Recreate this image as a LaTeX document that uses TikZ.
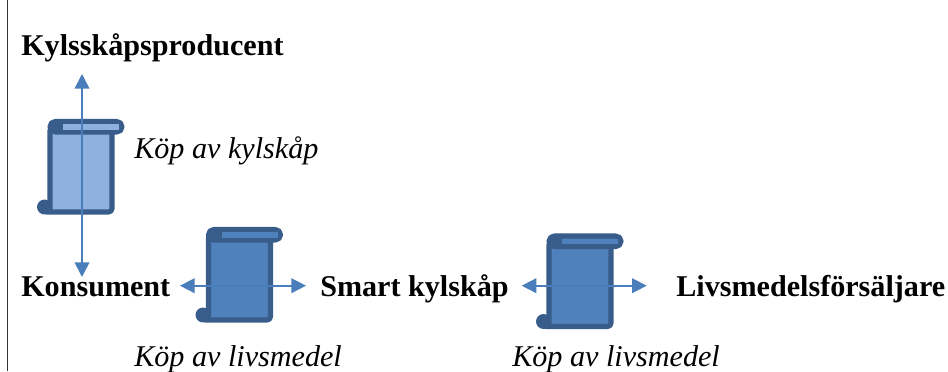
\documentclass[tikz,border=0pt]{standalone}
\usepackage{fontspec}
\setmainfont{Liberation Serif}
\usetikzlibrary{arrows.meta}
\definecolor{arrowblue}{HTML}{4A7EBB}
\definecolor{scrolledge}{HTML}{385D8A}
\definecolor{scrolllight}{HTML}{8EB1E0}
\definecolor{scrolldark}{HTML}{4F81BD}
\tikzset{
  px/.style={x=0.75pt,y=-0.75pt},
  flow/.style={draw=arrowblue,line width=1.25pt,{Triangle[length=11pt,width=11pt]}-{Triangle[length=11pt,width=11pt]}},
  actor/.style={font=\fontsize{22.6pt}{26pt}\selectfont\bfseries,inner sep=0pt,anchor=base west},
  flowlabel/.style={font=\fontsize{22.6pt}{26pt}\selectfont\itshape,inner sep=0pt,anchor=base west},
  scrollline/.style={draw=scrolledge,line width=3.8pt,line join=round}
}
\newcommand{\scrollshape}[3]{%
  \begin{scope}[shift={(#1,#2)}]
    % bottom-left curl
    \fill[scrolledge] (-5.5,85) circle[radius=5.6pt];
    % body
    \draw[scrollline,fill=#3,rounded corners=2.5pt] (0,5) -- (62,5) -- (62,90) -- (-5,90) -- (0,90) -- cycle;
    % top roll
    \draw[scrollline,fill=#3,rounded corners=3.9pt] (0,-0.5) rectangle (72,10);
    \fill[scrolledge] (0,-0.5) rectangle (13,10);
    \fill[scrolledge] (-2.4,5) rectangle (0,10);
    \fill[#3] (13,2) rectangle (69,7.5);
  \end{scope}}
\begin{document}
\begin{tikzpicture}[px]
\useasboundingbox (0,0) rectangle (948,371);
\fill[white] (0,0) rectangle (948,371);
\draw[line width=1.2pt,black!80] (7.3,0) -- (7.3,371);
\scrollshape{50}{122}{scrolllight}
\scrollshape{208.5}{230}{scrolldark}
\scrollshape{549}{236.5}{scrolldark}
\node[actor] (prod) at (21,55) {Kylsskåpsproducent};
\node[actor] (kons) at (21,296.5) {Konsument};
\node[actor] (smart) at (320,296.5) {Smart kylskåp};
\node[actor] (liv) at (676,296.5) {Livsmedelsförsäljare};
\node[flowlabel] (l1) at (134,158) {Köp av kylskåp};
\node[flowlabel] (l2) at (134,366) {Köp av livsmedel};
\node[flowlabel] (l3) at (512,366) {Köp av livsmedel};
\coordinate (a1) at (82,74);
\coordinate (a2) at (82,277);
\coordinate (b1) at (180,285.7);
\coordinate (b2) at (306,285.7);
\coordinate (c1) at (521.7,285.7);
\coordinate (c2) at (646.7,285.7);
\draw[flow] (a1) -- (a2);
\draw[flow] (b1) -- (b2);
\draw[flow] (c1) -- (c2);
\end{tikzpicture}
\end{document}
